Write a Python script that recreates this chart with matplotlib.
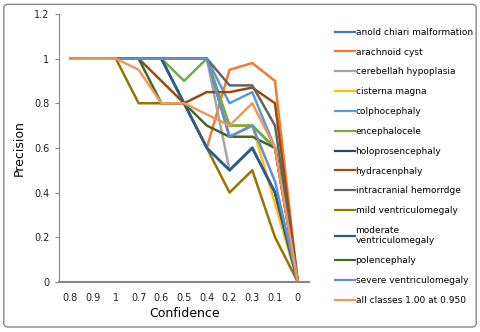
import matplotlib.pyplot as plt
from matplotlib.patches import FancyBboxPatch

# confidence thresholds as they appear on the x axis
categories = ['0.8', '0.9', '1', '0.7', '0.6', '0.5', '0.4', '0.2', '0.3', '0.1', '0']

anold = [1, 1, 1, 1, 1, 1, 1, 0.65, 0.7, 0.6, 0]
arachnoid = [1, 1, 1, 1, 1, 0.8, 0.6, 0.95, 0.98, 0.9, 0]
cerebellah = [1, 1, 1, 1, 1, 1, 1, 0.5, 0.6, 0.4, 0]
cisterna = [1, 1, 1, 1, 1, 1, 1, 0.7, 0.7, 0.35, 0]
colpho = [1, 1, 1, 1, 1, 1, 1, 0.8, 0.85, 0.6, 0]
encephalocele = [1, 1, 1, 1, 1, 0.9, 1, 0.7, 0.7, 0.6, 0]
holopros = [1, 1, 1, 1, 1, 0.8, 0.6, 0.5, 0.6, 0.4, 0]
hydra = [1, 1, 1, 1, 0.9, 0.8, 0.85, 0.85, 0.87, 0.8, 0]
intracranial = [1, 1, 1, 1, 1, 1, 1, 0.88, 0.88, 0.7, 0]
mild = [1, 1, 1, 0.8, 0.8, 0.8, 0.6, 0.4, 0.5, 0.2, 0]
moderate = [1, 1, 1, 1, 1, 0.8, 0.6, 0.5, 0.6, 0.4, 0]
polencephaly = [1, 1, 1, 1, 0.8, 0.8, 0.7, 0.65, 0.65, 0.6, 0]
severe = [1, 1, 1, 1, 1, 1, 1, 0.65, 0.7, 0.45, 0]
all_classes = [1, 1, 1, 0.95, 0.8, 0.8, 0.75, 0.7, 0.8, 0.6, 0]

labels = ['anold chiari malformation', 'arachnoid cyst', 'cerebellah hypoplasia',
          'cisterna magna', 'colphocephaly', 'encephalocele', 'holoprosencephaly',
          'hydracenphaly', 'intracranial hemorrdge', 'mild ventriculomegaly',
          'moderate\nventriculomegaly', 'polencephaly', 'severe ventriculomegaly',
          'all classes 1.00 at 0.950']
series = [anold, arachnoid, cerebellah, cisterna, colpho, encephalocele, holopros,
          hydra, intracranial, mild, moderate, polencephaly, severe, all_classes]
colors = ['#4472C4', '#ED7D31', '#A5A5A5', '#FFC000', '#5B9BD5', '#70AD47', '#264478',
          '#9E480E', '#636363', '#997300', '#255E91', '#43682B', '#698ED0', '#F1975A']

fig = plt.figure(figsize=(4.8, 3.32), dpi=100)
ax = fig.add_axes([0.123, 0.151, 0.521, 0.807])

x = list(range(len(categories)))
for vals, lab, col in zip(series, labels, colors):
    ax.plot(x, vals, color=col, linewidth=1.8, label=lab)

ax.set_xlim(-0.5, len(categories) - 0.5)
ax.set_ylim(0, 1.2)
ax.set_xticks(x)
ax.set_xticklabels(categories)
ax.set_yticks([0, 0.2, 0.4, 0.6, 0.8, 1, 1.2])
ax.set_yticklabels(['0', '0.2', '0.4', '0.6', '0.8', '1', '1.2'])
ax.tick_params(axis='x', length=0, labelsize=7, pad=8, colors='#222222')
ax.tick_params(axis='y', length=3, labelsize=7, pad=4, colors='#868686', labelcolor='#222222')
ax.spines['top'].set_visible(False)
ax.spines['right'].set_visible(False)
ax.spines['left'].set_color('#868686')
ax.spines['bottom'].set_color('#868686')
ax.spines['bottom'].set_linewidth(1.5)
ax.set_xlabel('Confidence', fontsize=9, labelpad=3)
ax.set_ylabel('Precision', fontsize=9, labelpad=6)

leg = fig.legend(loc='upper left', bbox_to_anchor=(0.688, 0.93), frameon=False,
                 fontsize=6.5, handlelength=2.2, handletextpad=0.1, labelspacing=1.2,
                 borderpad=0)
for line in leg.get_lines():
    line.set_linewidth(1.6)

border = FancyBboxPatch((0.008, 0.015), 0.984, 0.972, boxstyle='round,pad=0,rounding_size=0.01',
                        transform=fig.transFigure, fill=False, edgecolor='#868686', linewidth=1)
fig.patches.append(border)

plt.savefig('out.png', dpi=100)
